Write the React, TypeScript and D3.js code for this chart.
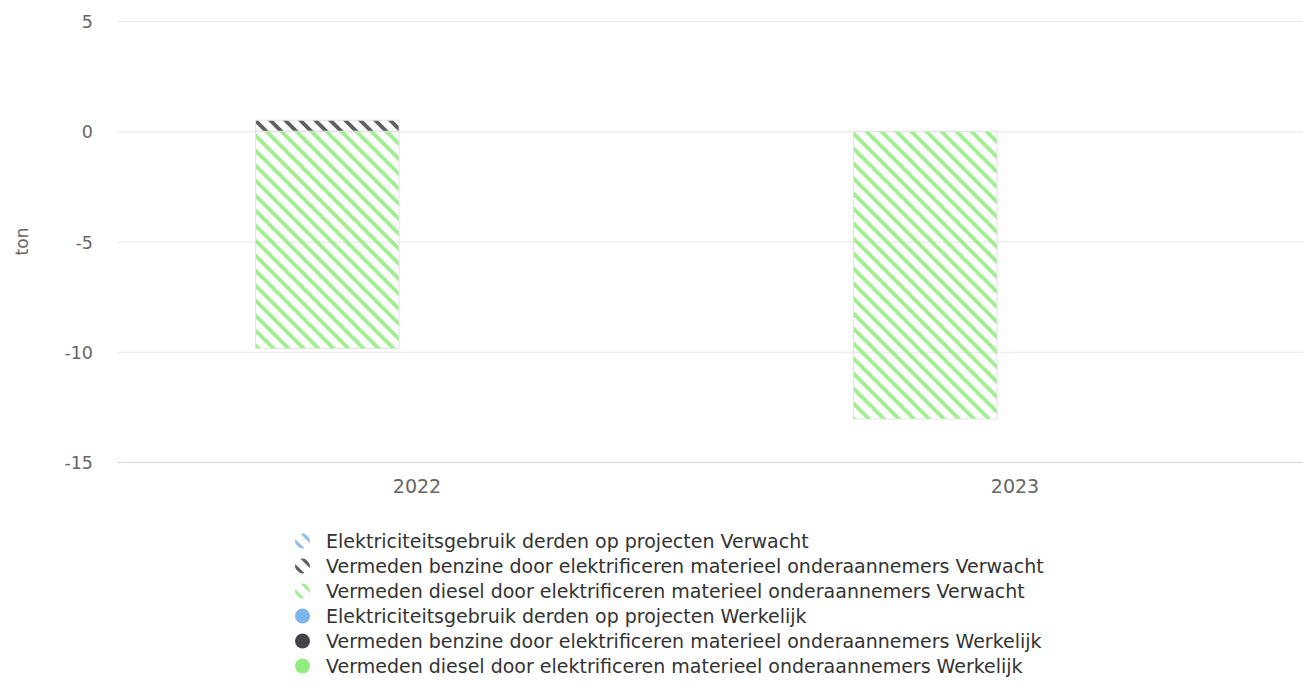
import * as React from "react";
import * as d3 from "d3";

const categories = ["2022", "2023"];
const stacks = ["Verwacht", "Werkelijk"];
const seriesNames = [
  "Elektriciteitsgebruik derden op projecten",
  "Vermeden benzine door elektrificeren materieel onderaannemers",
  "Vermeden diesel door elektrificeren materieel onderaannemers",
];
const seriesColors = ["#7cb5ec", "#434348", "#90ed7d"];
// values per series, per category
const verwacht = [
  [0, 0],
  [0.5, 0],
  [-9.85, -13.05],
];
const werkelijk: (number | null)[][] = [
  [null, null],
  [null, null],
  [null, null],
];
const yTicks = [5, 0, -5, -10, -15];

const W = 1303;
const H = 684;
const font = "'DejaVu Sans', Verdana, sans-serif";
const stripe = "M 0 0 L 15 15 M 13.5 -1.5 L 16.5 1.5 M -1.5 13.5 L 1.5 16.5";

export default function App() {
  const x = d3.scaleBand().domain(categories).range([118, 1314]).paddingInner(0).paddingOuter(0);
  const cw = x.bandwidth();
  const gp = 0.2;
  const inner = d3
    .scaleBand()
    .domain(stacks)
    .range([cw * gp, cw * (1 - gp)])
    .paddingInner(0.2)
    .paddingOuter(0.1);
  const y = d3.scaleLinear().domain([-15, 5]).range([462, 21]);

  const bars: any[] = [];
  [verwacht, werkelijk].forEach((data, si) => {
    categories.forEach((c, ci) => {
      let pos = 0;
      let neg = 0;
      // Highcharts stacks the last series nearest the axis
      for (let s = data.length - 1; s >= 0; s--) {
        const v = data[s][ci];
        if (v == null || v === 0) continue;
        let y0, y1;
        if (v > 0) {
          y0 = pos;
          y1 = pos + v;
          pos = y1;
        } else {
          y0 = neg;
          y1 = neg + v;
          neg = y1;
        }
        bars.push({
          key: `${si}-${ci}-${s}`,
          x: (x(c) as number) + (inner(stacks[si]) as number),
          w: inner.bandwidth(),
          top: y(Math.max(y0, y1)),
          bottom: y(Math.min(y0, y1)),
          fill: si === 0 ? `url(#pat-${s})` : seriesColors[s],
        });
      }
    });
  });

  const legend = [
    ...seriesNames.map((n, i) => ({ name: `${n} Verwacht`, fill: `url(#lpat-${i})` })),
    ...seriesNames.map((n, i) => ({ name: `${n} Werkelijk`, fill: seriesColors[i] })),
  ];

  return (
    <svg
      width={W}
      height={H}
      style={{ position: "absolute", left: 0, top: 0, fontFamily: font }}
    >
      <defs>
        {seriesColors.map((c, i) => (
          <pattern key={i} id={`pat-${i}`} patternUnits="userSpaceOnUse" width={15} height={15}>
            <path d={stripe} stroke={c} strokeWidth={3.8} fill="none" opacity={0.85} />
          </pattern>
        ))}
        {seriesColors.map((c, i) => (
          <pattern
            key={i}
            id={`lpat-${i}`}
            patternUnits="userSpaceOnUse"
            x={7.5}
            width={15}
            height={15}
          >
            <path d={stripe} stroke={c} strokeWidth={3.2} fill="none" opacity={0.85} />
          </pattern>
        ))}
      </defs>
      <rect width={W} height={H} fill="#ffffff" />
      {yTicks.map((t) =>
        t === -15 ? null : (
          <line key={t} x1={118} x2={W} y1={y(t) + 0.5} y2={y(t) + 0.5} stroke="#e6e6e6" strokeWidth={1} />
        )
      )}
      {yTicks.map((t) => (
        <text
          key={t}
          x={93}
          y={y(t) + 7}
          textAnchor="end"
          fontSize={17.5}
          fill="#666666"
        >
          {t}
        </text>
      ))}
      <text
        transform={`translate(28,${y(-5)}) rotate(-90)`}
        textAnchor="middle"
        fontSize={17}
        fill="#666666"
      >
        ton
      </text>
      {bars.map((b) => (
        <rect
          key={b.key}
          x={b.x}
          y={b.top}
          width={b.w}
          height={b.bottom - b.top}
          fill={b.fill}
          stroke="#e3e3e3"
          strokeWidth={1}
        />
      ))}
      <line x1={118} x2={W} y1={y(-15) + 0.5} y2={y(-15) + 0.5} stroke="#ccd6eb" strokeWidth={1} />
      {categories.map((c) => (
        <text
          key={c}
          x={(x(c) as number) + cw / 2}
          y={493}
          textAnchor="middle"
          fontSize={19}
          fill="#666666"
        >
          {c}
        </text>
      ))}
      {legend.map((l, i) => (
        <g key={i} transform={`translate(302.5,${541 + i * 25})`}>
          <circle r={7.5} fill={l.fill} />
          <text x={23.5} y={7} fontSize={19} fill="#333333">
            {l.name}
          </text>
        </g>
      ))}
    </svg>
  );
}
